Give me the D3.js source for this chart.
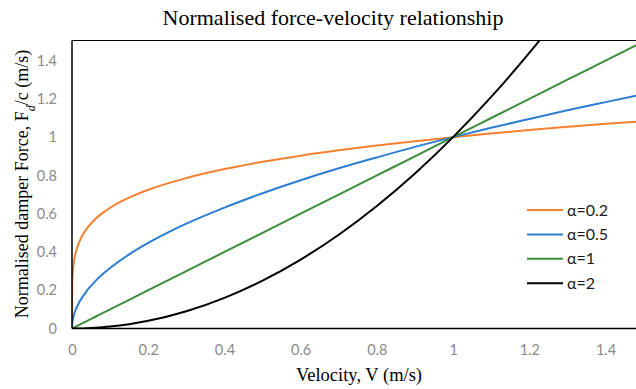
<!DOCTYPE html>
<html>
<head>
<meta charset="utf-8">
<script src="https://cdn.jsdelivr.net/npm/d3@7"></script>
<style>
  body { margin: 0; background: #fff; }
</style>
</head>
<body>
<div id="chart"></div>
<script>
// Velocity samples (m/s) and normalised force
const velocity = [0, 0.0005, 0.002, 0.005, 0.01, 0.02, 0.04, 0.06, 0.08, 0.1, 0.15, 0.2, 0.3, 0.4, 0.5, 0.6, 0.7, 0.8, 0.9, 1.0, 1.1, 1.2, 1.3, 1.4, 1.48]
const forceA02 = [0, 0.219, 0.289, 0.347, 0.398, 0.457, 0.525, 0.570, 0.603, 0.631, 0.684, 0.725, 0.786, 0.833, 0.871, 0.903, 0.931, 0.956, 0.979, 1.0, 1.019, 1.037, 1.054, 1.070, 1.081]
const forceA05 = [0, 0.022, 0.045, 0.071, 0.1, 0.141, 0.2, 0.245, 0.283, 0.316, 0.387, 0.447, 0.548, 0.632, 0.707, 0.775, 0.837, 0.894, 0.949, 1.0, 1.049, 1.095, 1.140, 1.183, 1.217]
const forceA1 = [0, 0.0005, 0.002, 0.005, 0.01, 0.02, 0.04, 0.06, 0.08, 0.1, 0.15, 0.2, 0.3, 0.4, 0.5, 0.6, 0.7, 0.8, 0.9, 1.0, 1.1, 1.2, 1.3, 1.4, 1.48]
const forceA2 = [0, 0, 0, 0, 0.0001, 0.0004, 0.0016, 0.0036, 0.0064, 0.01, 0.0225, 0.04, 0.09, 0.16, 0.25, 0.36, 0.49, 0.64, 0.81, 1.0, 1.21, 1.44, 1.69, 1.96, 2.19]

const seriesNames = ["α=0.2", "α=0.5", "α=1", "α=2"]
const seriesColors = ["#f4812f", "#2d7dd2", "#3c8c3a", "#000000"]
const seriesForces = [forceA02, forceA05, forceA1, forceA2]

const xTicks = [0, 0.2, 0.4, 0.6, 0.8, 1, 1.2, 1.4]
const yTicks = [0, 0.2, 0.4, 0.6, 0.8, 1, 1.2, 1.4]

const width = 636
const height = 389
const margin = { top: 40.5, right: 0, bottom: 60.5, left: 72 }

const svg = d3.select("#chart")
  .append("svg")
  .attr("width", width)
  .attr("height", height)

const x = d3.scaleLinear()
  .domain([0, 1.48])
  .range([margin.left, width - margin.right])

const y = d3.scaleLinear()
  .domain([0, 1.505])
  .range([height - margin.bottom, margin.top])

svg.append("defs").append("clipPath")
  .attr("id", "plot-clip")
  .append("rect")
  .attr("x", margin.left)
  .attr("y", margin.top)
  .attr("width", width - margin.left - margin.right)
  .attr("height", height - margin.top - margin.bottom)

// top border of plot area
svg.append("line")
  .attr("x1", margin.left)
  .attr("x2", width - margin.right)
  .attr("y1", margin.top)
  .attr("y2", margin.top)
  .attr("stroke", "#000")
  .attr("stroke-width", 1)

// Tick labels
const tickFont = "Lato, 'Open Sans', sans-serif"

svg.append("g")
  .attr("transform", `translate(0,${height - margin.bottom})`)
  .call(d3.axisBottom(x).tickValues(xTicks).tickSize(0).tickPadding(16).tickFormat(d => String(d)))
  .call(g => g.select(".domain").remove())
  .call(g => g.selectAll("text")
    .attr("fill", "#8a8a8a")
    .style("font-family", tickFont)
    .style("font-size", "14.5px"))

svg.append("g")
  .attr("transform", `translate(${margin.left},0)`)
  .call(d3.axisLeft(y).tickValues(yTicks).tickSize(0).tickPadding(15).tickFormat(d => String(d)))
  .call(g => g.select(".domain").remove())
  .call(g => g.selectAll("text")
    .attr("fill", "#8a8a8a")
    .style("font-family", tickFont)
    .style("font-size", "14.5px"))

// Curves
const line = d3.line()
  .x((d, i) => x(velocity[i]))
  .y(d => y(d))
  .curve(d3.curveMonotoneX)

svg.append("g")
  .attr("clip-path", "url(#plot-clip)")
  .selectAll("path")
  .data(seriesForces)
  .enter()
  .append("path")
  .attr("d", d => line(d))
  .attr("fill", "none")
  .attr("stroke", (_, i) => seriesColors[i])
  .attr("stroke-width", 2)

// Axis lines
svg.append("line")
  .attr("x1", margin.left)
  .attr("x2", margin.left)
  .attr("y1", margin.top)
  .attr("y2", height - margin.bottom)
  .attr("stroke", "#000")
  .attr("stroke-width", 1.5)

svg.append("line")
  .attr("x1", margin.left)
  .attr("x2", width - margin.right)
  .attr("y1", height - margin.bottom)
  .attr("y2", height - margin.bottom)
  .attr("stroke", "#000")
  .attr("stroke-width", 1.5)

// Legend
const legend = svg.append("g")
  .attr("transform", "translate(527,210)")

const legendRows = legend.selectAll("g")
  .data(seriesNames)
  .enter()
  .append("g")
  .attr("transform", (_, i) => `translate(0,${i * 24.4})`)

legendRows.append("line")
  .attr("x1", 0)
  .attr("x2", 36)
  .attr("stroke", (_, i) => seriesColors[i])
  .attr("stroke-width", 2)

legendRows.append("text")
  .attr("x", 40)
  .attr("dy", "0.35em")
  .attr("fill", "#1a1a1a")
  .style("font-family", tickFont)
  .style("font-size", "16px")
  .text(d => d)

// Titles
const serif = "'Liberation Serif', 'Times New Roman', serif"

svg.append("text")
  .attr("x", 333)
  .attr("y", 25)
  .attr("text-anchor", "middle")
  .style("font-family", serif)
  .style("font-size", "22px")
  .text("Normalised force-velocity relationship")

svg.append("text")
  .attr("x", 359)
  .attr("y", 381)
  .attr("text-anchor", "middle")
  .style("font-family", serif)
  .style("font-size", "18.5px")
  .text("Velocity, V (m/s)")

const yTitle = svg.append("text")
  .attr("transform", "translate(28,184) rotate(-90)")
  .attr("text-anchor", "middle")
  .style("font-family", serif)
  .style("font-size", "18px")

yTitle.append("tspan").text("Normalised damper Force, F")
yTitle.append("tspan").attr("baseline-shift", "sub").style("font-size", "12px").style("font-style", "italic").text("d")
yTitle.append("tspan").text("/c  (m/s)")
</script>
</body>
</html>
